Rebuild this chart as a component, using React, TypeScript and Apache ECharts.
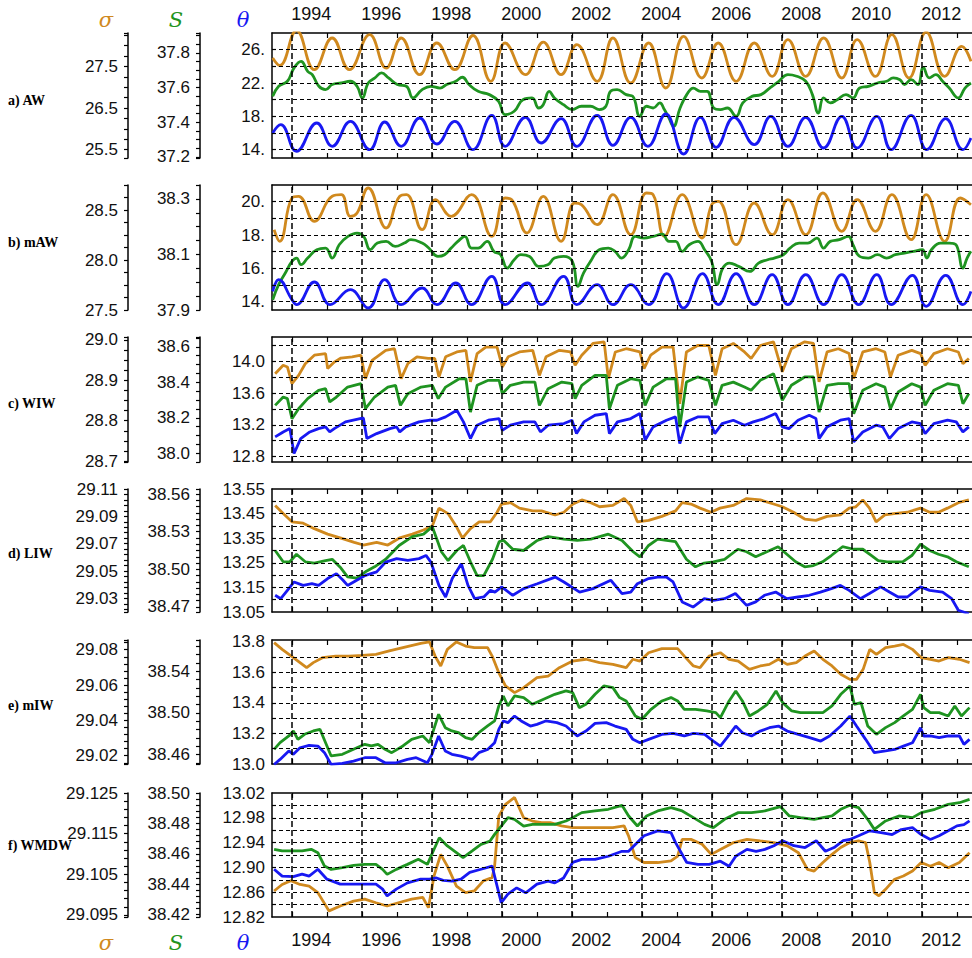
import React, { useEffect, useRef } from "react";
import * as echarts from "echarts";

// ---------- time axis ----------
const X_MIN = 1993.43;
const X_MAX = 2013.43;
const YEAR_TICKS = [1994, 1995, 1996, 1997, 1998, 1999, 2000, 2001, 2002, 2003, 2004, 2005, 2006, 2007, 2008, 2009, 2010, 2011, 2012, 2013];
const YEAR_LABELS = [1994, 1996, 1998, 2000, 2002, 2004, 2006, 2008, 2010, 2012];
const GRID_YEARS = [1994, 1996, 1998, 2000, 2002, 2004, 2006, 2008, 2010, 2012];
const LABEL_SHIFT = 0.55;

// ---------- panels ----------
const PANEL_NAMES = ["a) AW", "b) mAW", "c) WIW", "d) LIW", "e) mIW", "f) WMDW"];

const SIGMA_RANGE = [[25.3, 28.3], [27.5, 28.75], [28.698, 29.007], [29.02, 29.11], [29.0153, 29.0855], [29.0945, 29.125]];
const SAL_RANGE = [[37.194, 37.914], [37.9, 38.35], [37.951, 38.655], [38.466, 38.564], [38.451, 38.57], [38.4185, 38.5]];
const THETA_RANGE = [[13, 28], [13.5, 21], [12.73, 14.31], [13.05, 13.55], [13.0, 13.81], [12.82, 13.02]];

const SIGMA_LABELS = [[25.5, 26.5, 27.5], [27.5, 28.0, 28.5], [28.7, 28.8, 28.9, 29.0], [29.03, 29.05, 29.07, 29.09, 29.11], [29.02, 29.04, 29.06, 29.08], [29.095, 29.105, 29.115, 29.125]];
const SIGMA_DEC = [1, 1, 1, 2, 2, 3];
const SIGMA_MINOR = [0.25, 0.125, 0.025, 0.004, 0.004, 0.002];

const SAL_LABELS = [[37.2, 37.4, 37.6, 37.8], [37.9, 38.1, 38.3], [38.0, 38.2, 38.4, 38.6], [38.47, 38.5, 38.53, 38.56], [38.46, 38.5, 38.54], [38.42, 38.44, 38.46, 38.48, 38.5]];
const SAL_DEC = [1, 1, 1, 2, 2, 2];
const SAL_MINOR = [0.05, 0.05, 0.05, 0.005, 0.008, 0.004];

const THETA_LABELS = [[14, 18, 22, 26], [14, 16, 18, 20], [12.8, 13.2, 13.6, 14.0], [13.05, 13.15, 13.25, 13.35, 13.45, 13.55], [13.0, 13.2, 13.4, 13.6, 13.8], [12.82, 12.86, 12.9, 12.94, 12.98, 13.02]];
const THETA_DEC = [0, 0, 1, 2, 1, 2];
const THETA_GRID = [
  [14, 16, 18, 20, 22, 24, 26],
  [14, 15, 16, 17, 18, 19, 20],
  [12.8, 13.0, 13.2, 13.4, 13.6, 13.8, 14.0, 14.2],
  [13.1, 13.15, 13.2, 13.25, 13.3, 13.35, 13.4, 13.45, 13.5],
  [13.1, 13.2, 13.3, 13.4, 13.5, 13.6, 13.7],
  [12.84, 12.86, 12.88, 12.9, 12.92, 12.94, 12.96, 12.98, 13.0],
];

// ---------- data: [year, value] ----------
const A_SIGMA = [[1993.45, 27.70], [1993.65, 27.52], [1994.13, 28.36], [1994.64, 27.42], [1995.15, 28.18], [1995.64, 27.42], [1996.22, 28.26], [1996.69, 27.46], [1997.12, 28.18], [1997.65, 27.30], [1998.14, 28.06], [1998.65, 27.42], [1999.17, 28.24], [1999.68, 27.14], [2000.09, 28.06], [2000.67, 27.30], [2001.18, 28.08], [2001.69, 27.30], [2002.14, 28.02], [2002.72, 27.14], [2003.17, 28.18], [2003.68, 27.10], [2004.19, 28.06], [2004.68, 26.98], [2005.19, 28.22], [2005.71, 27.22], [2006.18, 28.06], [2006.69, 27.14], [2007.21, 28.06], [2007.72, 27.26], [2008.17, 28.14], [2008.68, 27.26], [2009.19, 28.18], [2009.71, 27.22], [2010.15, 28.14], [2010.67, 27.26], [2011.14, 28.26], [2011.63, 27.22], [2012.12, 28.32], [2012.65, 27.26], [2013.14, 27.98], [2013.40, 27.62]];
const A_SAL = [[1993.45, 37.549], [1993.62, 37.607], [1993.87, 37.636], [1994.06, 37.713], [1994.26, 37.751], [1994.45, 37.693], [1994.58, 37.674], [1994.77, 37.607], [1994.96, 37.588], [1995.15, 37.617], [1995.41, 37.626], [1995.67, 37.636], [1995.86, 37.607], [1996.01, 37.540], [1996.18, 37.626], [1996.37, 37.655], [1996.56, 37.684], [1996.76, 37.655], [1997.01, 37.617], [1997.27, 37.607], [1997.46, 37.540], [1997.72, 37.588], [1997.97, 37.607], [1998.23, 37.597], [1998.42, 37.617], [1998.68, 37.636], [1998.87, 37.659], [1999.06, 37.617], [1999.32, 37.578], [1999.64, 37.559], [1999.90, 37.521], [2000.09, 37.444], [2000.35, 37.463], [2000.60, 37.530], [2000.86, 37.540], [2001.05, 37.482], [2001.18, 37.501], [2001.35, 37.578], [2001.50, 37.540], [2001.76, 37.501], [2002.01, 37.473], [2002.27, 37.492], [2002.53, 37.492], [2002.78, 37.473], [2002.97, 37.492], [2003.10, 37.578], [2003.29, 37.588], [2003.55, 37.559], [2003.74, 37.549], [2003.94, 37.434], [2004.13, 37.492], [2004.32, 37.482], [2004.51, 37.511], [2004.64, 37.473], [2004.77, 37.425], [2004.90, 37.377], [2005.09, 37.482], [2005.28, 37.559], [2005.47, 37.597], [2005.67, 37.578], [2005.86, 37.578], [2006.05, 37.482], [2006.24, 37.473], [2006.44, 37.482], [2006.69, 37.434], [2006.88, 37.511], [2007.14, 37.549], [2007.40, 37.559], [2007.65, 37.597], [2007.91, 37.636], [2008.17, 37.674], [2008.42, 37.665], [2008.68, 37.636], [2008.87, 37.559], [2009.04, 37.453], [2009.19, 37.540], [2009.38, 37.511], [2009.58, 37.530], [2009.83, 37.559], [2010.03, 37.540], [2010.22, 37.597], [2010.47, 37.607], [2010.73, 37.626], [2010.99, 37.636], [2011.18, 37.655], [2011.37, 37.645], [2011.50, 37.617], [2011.69, 37.645], [2011.88, 37.617], [2012.04, 37.716], [2012.21, 37.655], [2012.40, 37.674], [2012.59, 37.636], [2012.78, 37.597], [2013.04, 37.540], [2013.23, 37.597], [2013.40, 37.626]];
const A_THETA = [[1993.45, 16.0], [1993.68, 17.0], [1994.13, 13.8], [1994.71, 17.2], [1995.15, 14.4], [1995.67, 17.4], [1996.22, 14.0], [1996.65, 17.32], [1997.12, 14.4], [1997.65, 17.8], [1998.14, 14.68], [1998.65, 17.4], [1999.17, 14.0], [1999.71, 18.12], [2000.09, 14.4], [2000.67, 17.88], [2001.12, 14.8], [2001.69, 17.72], [2002.14, 14.4], [2002.72, 18.12], [2003.17, 14.52], [2003.68, 17.88], [2004.17, 14.4], [2004.68, 18.28], [2005.19, 13.48], [2005.67, 17.88], [2006.12, 14.28], [2006.63, 17.88], [2007.21, 14.6], [2007.68, 18.0], [2008.17, 14.4], [2008.68, 17.88], [2009.19, 14.2], [2009.71, 18.0], [2010.15, 14.2], [2010.71, 18.0], [2011.12, 14.0], [2011.69, 18.12], [2012.14, 14.0], [2012.68, 17.72], [2013.17, 14.0], [2013.40, 15.4]];

const B_SIGMA = [[1993.49, 28.303], [1993.65, 28.187], [1994.0, 28.62], [1994.19, 28.637], [1994.64, 28.387], [1995.15, 28.637], [1995.41, 28.653], [1995.67, 28.437], [1995.86, 28.47], [1996.18, 28.72], [1996.69, 28.32], [1997.08, 28.637], [1997.27, 28.653], [1997.72, 28.303], [1998.10, 28.603], [1998.55, 28.437], [1999.13, 28.653], [1999.71, 28.237], [2000.09, 28.62], [2000.28, 28.603], [2000.71, 28.27], [2001.18, 28.637], [2001.69, 28.187], [2002.08, 28.57], [2002.27, 28.553], [2002.72, 28.353], [2003.17, 28.653], [2003.68, 28.253], [2004.13, 28.67], [2004.32, 28.653], [2004.64, 28.237], [2005.15, 28.653], [2005.71, 28.22], [2005.99, 28.553], [2006.18, 28.587], [2006.69, 28.153], [2007.21, 28.57], [2007.72, 28.253], [2008.17, 28.603], [2008.68, 28.253], [2009.17, 28.67], [2009.71, 28.287], [2010.15, 28.603], [2010.67, 28.287], [2011.14, 28.653], [2011.69, 28.203], [2012.12, 28.653], [2012.65, 28.187], [2013.10, 28.62], [2013.40, 28.553]];
const B_SAL = [[1993.45, 37.937], [1993.62, 37.991], [1993.81, 38.033], [1994.0, 38.075], [1994.13, 38.087], [1994.26, 38.063], [1994.45, 38.087], [1994.71, 38.117], [1994.96, 38.123], [1995.15, 38.087], [1995.35, 38.135], [1995.60, 38.165], [1995.86, 38.177], [1996.05, 38.165], [1996.24, 38.117], [1996.44, 38.141], [1996.69, 38.147], [1996.95, 38.129], [1997.21, 38.141], [1997.40, 38.153], [1997.72, 38.141], [1997.91, 38.123], [1998.17, 38.093], [1998.36, 38.099], [1998.55, 38.123], [1998.74, 38.147], [1998.94, 38.165], [1999.13, 38.123], [1999.32, 38.123], [1999.58, 38.147], [1999.77, 38.111], [1999.96, 38.099], [2000.15, 38.051], [2000.35, 38.081], [2000.54, 38.099], [2000.79, 38.093], [2001.05, 38.057], [2001.31, 38.063], [2001.50, 38.087], [2001.76, 38.093], [2002.01, 38.075], [2002.17, 37.985], [2002.33, 38.033], [2002.53, 38.075], [2002.78, 38.117], [2003.04, 38.123], [2003.23, 38.111], [2003.42, 38.087], [2003.62, 38.117], [2003.81, 38.165], [2004.06, 38.159], [2004.32, 38.165], [2004.58, 38.173], [2004.77, 38.147], [2004.96, 38.147], [2005.15, 38.111], [2005.35, 38.135], [2005.60, 38.147], [2005.79, 38.117], [2005.99, 38.075], [2006.15, 37.991], [2006.31, 38.051], [2006.50, 38.069], [2006.76, 38.057], [2007.08, 38.039], [2007.33, 38.069], [2007.59, 38.081], [2007.78, 38.087], [2008.04, 38.099], [2008.23, 38.123], [2008.49, 38.141], [2008.74, 38.141], [2009.00, 38.159], [2009.19, 38.123], [2009.38, 38.147], [2009.64, 38.153], [2009.90, 38.165], [2010.03, 38.135], [2010.22, 38.093], [2010.47, 38.087], [2010.73, 38.099], [2010.99, 38.087], [2011.24, 38.099], [2011.50, 38.105], [2011.76, 38.111], [2012.01, 38.117], [2012.14, 38.087], [2012.27, 38.117], [2012.53, 38.141], [2012.78, 38.141], [2012.97, 38.135], [2013.17, 38.051], [2013.29, 38.087], [2013.40, 38.111]];
const B_THETA = [[1993.45, 14.62], [1993.62, 15.32], [1994.0, 14.12], [1994.13, 13.82], [1994.64, 15.18], [1995.09, 13.82], [1995.67, 14.72], [1996.18, 13.62], [1996.65, 15.32], [1997.12, 13.82], [1997.72, 14.82], [1998.14, 13.82], [1998.68, 15.12], [1999.13, 13.82], [1999.71, 15.52], [2000.09, 13.82], [2000.73, 15.12], [2001.12, 13.82], [2001.76, 15.52], [2002.14, 13.82], [2002.72, 15.02], [2003.17, 13.82], [2003.68, 15.02], [2004.19, 13.82], [2004.71, 15.68], [2005.19, 13.62], [2005.73, 15.68], [2006.18, 13.82], [2006.69, 15.68], [2007.21, 13.82], [2007.72, 15.62], [2008.17, 13.82], [2008.68, 15.62], [2009.19, 13.82], [2009.71, 15.62], [2010.19, 13.82], [2010.71, 15.62], [2011.12, 13.82], [2011.73, 15.58], [2012.12, 13.72], [2012.68, 15.58], [2013.17, 13.82], [2013.40, 14.62]];

const C_SIGMA = [[1993.52, 28.916], [1993.75, 28.937], [1993.87, 28.933], [1994.0, 28.892], [1994.19, 28.912], [1994.38, 28.941], [1994.64, 28.962], [1994.96, 28.966], [1995.02, 28.929], [1995.21, 28.945], [1995.40, 28.955], [1995.72, 28.958], [1995.97, 28.962], [1996.10, 28.904], [1996.29, 28.949], [1996.68, 28.974], [1996.93, 28.978], [1997.12, 28.904], [1997.31, 28.941], [1997.57, 28.958], [1997.89, 28.954], [1998.08, 28.954], [1998.20, 28.908], [1998.39, 28.958], [1998.71, 28.970], [1998.97, 28.974], [1999.10, 28.896], [1999.29, 28.966], [1999.54, 28.982], [1999.86, 28.982], [2000.01, 28.933], [2000.18, 28.958], [2000.50, 28.970], [2000.88, 28.974], [2001.07, 28.912], [2001.26, 28.958], [2001.64, 28.974], [2001.96, 28.970], [2002.09, 28.937], [2002.28, 28.962], [2002.60, 28.991], [2002.92, 28.995], [2003.04, 28.904], [2003.24, 28.970], [2003.55, 28.978], [2003.94, 28.970], [2004.06, 28.929], [2004.25, 28.962], [2004.57, 28.982], [2004.89, 28.982], [2005.08, 28.842], [2005.27, 28.970], [2005.59, 28.986], [2005.91, 28.986], [2006.10, 28.912], [2006.29, 28.978], [2006.61, 28.991], [2006.93, 28.970], [2007.12, 28.954], [2007.38, 28.986], [2007.76, 28.995], [2008.01, 28.921], [2008.27, 28.978], [2008.65, 28.995], [2008.90, 28.991], [2009.06, 28.896], [2009.29, 28.970], [2009.61, 28.978], [2009.92, 28.966], [2010.05, 28.904], [2010.31, 28.970], [2010.69, 28.978], [2010.94, 28.970], [2011.10, 28.908], [2011.32, 28.962], [2011.71, 28.974], [2011.96, 28.966], [2012.09, 28.937], [2012.34, 28.966], [2012.73, 28.978], [2013.04, 28.970], [2013.17, 28.941], [2013.34, 28.954]];
const C_SAL = [[1993.52, 38.270], [1993.75, 38.317], [1993.87, 38.308], [1994.0, 38.195], [1994.19, 38.251], [1994.45, 38.308], [1994.76, 38.355], [1994.96, 38.364], [1995.08, 38.289], [1995.27, 38.317], [1995.59, 38.373], [1995.97, 38.392], [1996.10, 38.251], [1996.36, 38.317], [1996.74, 38.373], [1996.96, 38.383], [1997.10, 38.270], [1997.31, 38.336], [1997.69, 38.373], [1998.01, 38.383], [1998.18, 38.308], [1998.39, 38.373], [1998.78, 38.420], [1998.97, 38.420], [1999.10, 38.232], [1999.29, 38.383], [1999.61, 38.411], [1999.92, 38.411], [2000.01, 38.336], [2000.24, 38.383], [2000.62, 38.401], [2000.94, 38.401], [2001.07, 38.270], [2001.32, 38.364], [2001.71, 38.401], [2002.0, 38.392], [2002.09, 38.308], [2002.28, 38.383], [2002.66, 38.439], [2002.98, 38.439], [2003.07, 38.251], [2003.30, 38.383], [2003.68, 38.420], [2003.94, 38.411], [2004.09, 38.270], [2004.32, 38.373], [2004.70, 38.420], [2004.96, 38.420], [2005.08, 38.148], [2005.27, 38.401], [2005.59, 38.430], [2005.91, 38.411], [2006.10, 38.270], [2006.29, 38.383], [2006.61, 38.401], [2006.93, 38.373], [2007.12, 38.355], [2007.38, 38.411], [2007.76, 38.448], [2008.01, 38.298], [2008.27, 38.383], [2008.65, 38.430], [2008.90, 38.430], [2009.06, 38.232], [2009.29, 38.383], [2009.61, 38.392], [2009.92, 38.392], [2010.05, 38.223], [2010.31, 38.355], [2010.69, 38.392], [2010.94, 38.373], [2011.10, 38.251], [2011.32, 38.345], [2011.71, 38.392], [2011.96, 38.373], [2012.09, 38.270], [2012.34, 38.355], [2012.73, 38.392], [2013.04, 38.383], [2013.17, 38.279], [2013.34, 38.336]];
const C_THETA = [[1993.52, 13.047], [1993.75, 13.110], [1993.94, 13.152], [1994.06, 12.837], [1994.25, 13.026], [1994.51, 13.110], [1994.76, 13.152], [1994.96, 13.174], [1995.08, 13.110], [1995.21, 13.152], [1995.53, 13.237], [1995.85, 13.270], [1996.04, 13.287], [1996.14, 13.026], [1996.42, 13.089], [1996.80, 13.152], [1996.99, 13.174], [1997.08, 13.110], [1997.25, 13.174], [1997.63, 13.237], [1997.95, 13.258], [1998.14, 13.258], [1998.39, 13.300], [1998.71, 13.384], [1998.90, 13.237], [1999.10, 13.026], [1999.29, 13.195], [1999.61, 13.258], [1999.92, 13.279], [2000.01, 13.131], [2000.24, 13.195], [2000.62, 13.237], [2000.94, 13.237], [2001.10, 13.110], [2001.32, 13.195], [2001.77, 13.216], [2002.0, 13.258], [2002.13, 13.089], [2002.34, 13.237], [2002.66, 13.321], [2002.98, 13.342], [2003.07, 13.089], [2003.30, 13.237], [2003.68, 13.279], [2003.94, 13.342], [2004.09, 13.005], [2004.32, 13.174], [2004.70, 13.258], [2004.96, 13.300], [2005.08, 12.963], [2005.27, 13.237], [2005.59, 13.300], [2005.91, 13.300], [2006.08, 13.089], [2006.29, 13.216], [2006.61, 13.258], [2006.93, 13.195], [2007.18, 13.237], [2007.50, 13.279], [2007.82, 13.342], [2008.01, 13.174], [2008.20, 13.152], [2008.46, 13.258], [2008.78, 13.321], [2008.97, 13.279], [2009.06, 13.026], [2009.29, 13.174], [2009.67, 13.258], [2009.92, 13.279], [2010.05, 12.984], [2010.31, 13.110], [2010.69, 13.195], [2010.88, 13.174], [2011.07, 13.026], [2011.32, 13.152], [2011.71, 13.237], [2011.96, 13.216], [2012.09, 13.089], [2012.34, 13.216], [2012.73, 13.258], [2012.98, 13.237], [2013.17, 13.110], [2013.34, 13.174]];

const D_SIGMA = [[1993.52, 29.098], [1993.75, 29.092], [1994.0, 29.086], [1994.32, 29.085], [1994.64, 29.081], [1995.02, 29.077], [1995.40, 29.074], [1995.78, 29.071], [1996.04, 29.069], [1996.42, 29.071], [1996.74, 29.069], [1997.06, 29.074], [1997.44, 29.077], [1997.76, 29.080], [1998.01, 29.083], [1998.20, 29.096], [1998.46, 29.092], [1998.71, 29.082], [1998.87, 29.074], [1999.10, 29.081], [1999.35, 29.086], [1999.67, 29.086], [1999.86, 29.093], [1999.99, 29.099], [2000.24, 29.100], [2000.50, 29.096], [2000.88, 29.094], [2001.13, 29.094], [2001.52, 29.091], [2001.77, 29.093], [2002.03, 29.099], [2002.28, 29.102], [2002.54, 29.100], [2002.79, 29.097], [2003.17, 29.098], [2003.49, 29.103], [2003.68, 29.098], [2003.87, 29.086], [2004.19, 29.087], [2004.57, 29.090], [2004.96, 29.094], [2005.15, 29.100], [2005.40, 29.099], [2005.66, 29.096], [2005.97, 29.093], [2006.23, 29.096], [2006.61, 29.098], [2006.99, 29.103], [2007.38, 29.102], [2007.76, 29.099], [2008.01, 29.097], [2008.33, 29.093], [2008.65, 29.088], [2008.97, 29.087], [2009.29, 29.090], [2009.67, 29.091], [2009.92, 29.096], [2010.11, 29.097], [2010.31, 29.102], [2010.50, 29.096], [2010.69, 29.086], [2010.94, 29.091], [2011.20, 29.092], [2011.58, 29.093], [2011.96, 29.096], [2012.22, 29.093], [2012.47, 29.093], [2012.73, 29.096], [2013.04, 29.100], [2013.34, 29.102]];
const D_SAL = [[1993.52, 38.515], [1993.75, 38.506], [1993.94, 38.506], [1994.13, 38.512], [1994.38, 38.506], [1994.64, 38.505], [1994.96, 38.507], [1995.15, 38.508], [1995.40, 38.501], [1995.59, 38.494], [1995.85, 38.493], [1996.10, 38.498], [1996.36, 38.502], [1996.68, 38.508], [1997.06, 38.519], [1997.44, 38.526], [1997.76, 38.528], [1998.01, 38.534], [1998.27, 38.514], [1998.46, 38.507], [1998.71, 38.515], [1998.90, 38.519], [1999.10, 38.506], [1999.29, 38.495], [1999.48, 38.495], [1999.73, 38.508], [1999.92, 38.522], [2000.05, 38.523], [2000.31, 38.516], [2000.62, 38.515], [2001.01, 38.523], [2001.32, 38.526], [2001.77, 38.524], [2002.15, 38.523], [2002.54, 38.524], [2003.04, 38.528], [2003.43, 38.523], [2003.75, 38.514], [2003.94, 38.510], [2004.19, 38.519], [2004.45, 38.524], [2004.70, 38.523], [2004.96, 38.522], [2005.27, 38.508], [2005.53, 38.502], [2005.78, 38.505], [2006.04, 38.506], [2006.36, 38.508], [2006.74, 38.516], [2006.99, 38.514], [2007.25, 38.510], [2007.57, 38.514], [2007.89, 38.518], [2008.14, 38.512], [2008.39, 38.506], [2008.65, 38.502], [2008.90, 38.503], [2009.16, 38.506], [2009.41, 38.511], [2009.73, 38.518], [2010.05, 38.516], [2010.31, 38.516], [2010.56, 38.511], [2010.75, 38.507], [2011.01, 38.506], [2011.45, 38.506], [2011.71, 38.511], [2011.96, 38.520], [2012.22, 38.515], [2012.47, 38.512], [2012.73, 38.510], [2012.98, 38.506], [2013.34, 38.502]];
const D_THETA = [[1993.52, 13.118], [1993.68, 13.104], [1993.87, 13.138], [1994.06, 13.172], [1994.32, 13.158], [1994.57, 13.165], [1994.76, 13.158], [1995.02, 13.186], [1995.27, 13.206], [1995.46, 13.179], [1995.59, 13.158], [1995.85, 13.179], [1996.10, 13.199], [1996.42, 13.213], [1996.68, 13.253], [1996.99, 13.267], [1997.31, 13.260], [1997.63, 13.267], [1997.83, 13.280], [1997.97, 13.253], [1998.20, 13.158], [1998.39, 13.111], [1998.58, 13.186], [1998.84, 13.246], [1999.03, 13.158], [1999.22, 13.104], [1999.48, 13.111], [1999.67, 13.138], [1999.80, 13.131], [1999.99, 13.152], [2000.31, 13.118], [2000.62, 13.145], [2001.01, 13.165], [2001.52, 13.192], [2001.77, 13.172], [2002.22, 13.131], [2002.60, 13.145], [2003.11, 13.179], [2003.43, 13.125], [2003.68, 13.131], [2003.87, 13.165], [2004.19, 13.186], [2004.45, 13.192], [2004.70, 13.192], [2004.89, 13.172], [2005.15, 13.091], [2005.46, 13.070], [2005.78, 13.104], [2006.04, 13.097], [2006.36, 13.104], [2006.67, 13.125], [2006.99, 13.077], [2007.25, 13.091], [2007.50, 13.118], [2007.82, 13.131], [2008.14, 13.104], [2008.46, 13.111], [2008.78, 13.118], [2009.10, 13.131], [2009.41, 13.145], [2009.67, 13.158], [2009.92, 13.138], [2010.24, 13.104], [2010.50, 13.125], [2010.82, 13.152], [2011.07, 13.131], [2011.32, 13.111], [2011.58, 13.111], [2011.96, 13.152], [2012.22, 13.138], [2012.59, 13.131], [2012.85, 13.104], [2013.04, 13.057], [2013.34, 13.043]];

const E_SIGMA = [[1993.49, 29.0840], [1993.72, 29.0802], [1994.04, 29.0755], [1994.42, 29.0698], [1994.61, 29.0727], [1994.87, 29.0755], [1995.25, 29.0764], [1995.63, 29.0764], [1996.02, 29.0768], [1996.40, 29.0774], [1996.78, 29.0793], [1997.17, 29.0812], [1997.68, 29.0836], [1997.93, 29.0844], [1998.09, 29.0764], [1998.25, 29.0708], [1998.44, 29.0802], [1998.70, 29.0844], [1998.96, 29.0821], [1999.21, 29.0812], [1999.59, 29.0812], [1999.72, 29.0764], [1999.91, 29.0670], [2000.10, 29.0595], [2000.36, 29.0557], [2000.62, 29.0585], [2001.00, 29.0642], [2001.32, 29.0651], [2001.64, 29.0698], [2002.02, 29.0736], [2002.40, 29.0746], [2002.79, 29.0727], [2003.17, 29.0717], [2003.55, 29.0698], [2003.74, 29.0746], [2003.94, 29.0736], [2004.19, 29.0783], [2004.57, 29.0806], [2005.02, 29.0806], [2005.21, 29.0764], [2005.47, 29.0708], [2005.66, 29.0698], [2005.92, 29.0764], [2006.24, 29.0783], [2006.49, 29.0746], [2006.75, 29.0736], [2007.07, 29.0689], [2007.38, 29.0708], [2007.64, 29.0717], [2007.90, 29.0746], [2008.15, 29.0717], [2008.41, 29.0727], [2008.66, 29.0764], [2008.92, 29.0793], [2009.17, 29.0746], [2009.43, 29.0708], [2009.68, 29.0661], [2009.94, 29.0632], [2010.13, 29.0632], [2010.32, 29.0689], [2010.51, 29.0802], [2010.70, 29.0774], [2010.96, 29.0812], [2011.22, 29.0821], [2011.47, 29.0830], [2011.73, 29.0802], [2011.98, 29.0755], [2012.24, 29.0746], [2012.49, 29.0736], [2012.75, 29.0755], [2013.07, 29.0746], [2013.36, 29.0727]];
const E_SAL = [[1993.49, 38.4651], [1993.66, 38.4715], [1993.91, 38.4779], [1994.04, 38.4827], [1994.17, 38.4747], [1994.36, 38.4795], [1994.61, 38.4827], [1994.80, 38.4843], [1995.00, 38.4683], [1995.12, 38.4587], [1995.44, 38.4603], [1995.76, 38.4651], [1996.08, 38.4699], [1996.27, 38.4683], [1996.46, 38.4699], [1996.66, 38.4651], [1996.85, 38.4619], [1997.17, 38.4683], [1997.42, 38.4747], [1997.74, 38.4779], [1997.93, 38.4715], [1998.19, 38.4987], [1998.38, 38.4859], [1998.57, 38.4827], [1998.76, 38.4811], [1998.96, 38.4763], [1999.15, 38.4747], [1999.34, 38.4811], [1999.59, 38.4875], [1999.79, 38.4923], [1999.91, 38.5067], [2000.04, 38.5163], [2000.17, 38.5067], [2000.36, 38.5163], [2000.62, 38.5147], [2000.87, 38.5083], [2001.19, 38.5131], [2001.51, 38.5179], [2001.83, 38.5211], [2002.02, 38.5195], [2002.21, 38.5051], [2002.40, 38.5083], [2002.66, 38.5179], [2002.91, 38.5259], [2003.17, 38.5243], [2003.36, 38.5147], [2003.55, 38.5115], [2003.81, 38.4971], [2004.00, 38.4939], [2004.26, 38.5035], [2004.57, 38.5115], [2004.83, 38.5147], [2005.02, 38.5115], [2005.21, 38.5035], [2005.53, 38.5035], [2005.85, 38.5019], [2006.11, 38.5003], [2006.24, 38.4955], [2006.49, 38.5115], [2006.68, 38.5211], [2006.87, 38.5115], [2007.07, 38.4971], [2007.32, 38.5019], [2007.58, 38.5083], [2007.83, 38.5211], [2008.02, 38.5099], [2008.28, 38.5019], [2008.53, 38.5003], [2008.79, 38.5003], [2009.17, 38.5003], [2009.43, 38.5067], [2009.68, 38.5179], [2009.94, 38.5259], [2010.07, 38.5083], [2010.26, 38.5099], [2010.45, 38.4875], [2010.70, 38.4795], [2010.96, 38.4859], [2011.22, 38.4907], [2011.47, 38.4971], [2011.73, 38.5035], [2011.96, 38.5179], [2012.05, 38.5051], [2012.24, 38.5003], [2012.49, 38.5003], [2012.75, 38.4971], [2012.94, 38.5067], [2013.13, 38.4971], [2013.36, 38.5051]];
const E_THETA = [[1993.49, 12.997], [1993.66, 13.030], [1993.91, 13.085], [1994.04, 13.063], [1994.23, 13.106], [1994.49, 13.122], [1994.74, 13.117], [1994.93, 13.074], [1995.12, 12.997], [1995.44, 13.004], [1995.76, 13.019], [1996.08, 13.041], [1996.40, 13.041], [1996.66, 13.008], [1996.98, 13.008], [1997.30, 13.030], [1997.55, 13.041], [1997.87, 13.008], [1998.00, 13.063], [1998.19, 13.183], [1998.38, 13.085], [1998.57, 13.063], [1998.83, 13.052], [1999.15, 13.030], [1999.34, 13.074], [1999.59, 13.095], [1999.79, 13.139], [1999.91, 13.226], [2000.04, 13.281], [2000.17, 13.270], [2000.36, 13.313], [2000.55, 13.281], [2000.81, 13.248], [2001.00, 13.259], [2001.25, 13.281], [2001.57, 13.270], [2001.83, 13.248], [2002.15, 13.183], [2002.40, 13.215], [2002.66, 13.265], [2002.98, 13.270], [2003.23, 13.248], [2003.55, 13.226], [2003.74, 13.161], [2003.94, 13.139], [2004.19, 13.161], [2004.57, 13.193], [2004.89, 13.200], [2005.21, 13.183], [2005.47, 13.200], [2005.79, 13.193], [2006.04, 13.150], [2006.24, 13.117], [2006.43, 13.172], [2006.68, 13.248], [2006.87, 13.204], [2007.13, 13.183], [2007.38, 13.215], [2007.64, 13.237], [2007.90, 13.248], [2008.15, 13.215], [2008.47, 13.193], [2008.79, 13.172], [2009.11, 13.150], [2009.36, 13.183], [2009.68, 13.248], [2009.94, 13.313], [2010.13, 13.248], [2010.39, 13.161], [2010.64, 13.074], [2010.96, 13.085], [2011.22, 13.095], [2011.47, 13.117], [2011.73, 13.139], [2011.96, 13.237], [2012.05, 13.183], [2012.24, 13.183], [2012.49, 13.172], [2012.75, 13.183], [2013.07, 13.183], [2013.20, 13.128], [2013.36, 13.161]];

const F_SIGMA = [[1993.49, 29.1009], [1993.72, 29.1025], [1993.97, 29.1034], [1994.23, 29.1025], [1994.49, 29.1021], [1994.74, 29.1005], [1995.06, 29.0960], [1995.38, 29.0972], [1995.76, 29.0984], [1996.08, 29.0989], [1996.40, 29.0980], [1996.72, 29.0972], [1997.04, 29.0980], [1997.42, 29.0989], [1997.74, 29.0993], [1997.90, 29.0968], [1998.06, 29.1046], [1998.25, 29.1099], [1998.44, 29.1070], [1998.70, 29.1021], [1998.96, 29.1005], [1999.21, 29.1009], [1999.47, 29.1034], [1999.72, 29.1042], [1999.79, 29.1070], [1999.91, 29.1193], [2000.10, 29.1222], [2000.36, 29.1239], [2000.62, 29.1189], [2000.87, 29.1181], [2001.13, 29.1177], [2001.38, 29.1177], [2001.70, 29.1169], [2002.02, 29.1165], [2002.40, 29.1165], [2002.79, 29.1165], [2003.17, 29.1165], [2003.49, 29.1169], [2003.62, 29.1144], [2003.81, 29.1091], [2004.06, 29.1079], [2004.45, 29.1079], [2004.83, 29.1083], [2005.02, 29.1095], [2005.15, 29.1136], [2005.40, 29.1136], [2005.72, 29.1124], [2005.98, 29.1099], [2006.24, 29.1111], [2006.62, 29.1128], [2007.00, 29.1136], [2007.38, 29.1132], [2007.77, 29.1128], [2008.15, 29.1120], [2008.47, 29.1103], [2008.73, 29.1062], [2008.92, 29.1058], [2009.17, 29.1079], [2009.43, 29.1099], [2009.68, 29.1116], [2009.94, 29.1128], [2010.19, 29.1132], [2010.39, 29.1128], [2010.51, 29.1079], [2010.64, 29.1005], [2010.77, 29.0997], [2010.96, 29.1013], [2011.22, 29.1038], [2011.47, 29.1046], [2011.73, 29.1058], [2011.98, 29.1079], [2012.24, 29.1070], [2012.49, 29.1079], [2012.75, 29.1066], [2013.07, 29.1079], [2013.36, 29.1103]];
const F_SAL = [[1993.49, 38.4630], [1993.72, 38.4619], [1993.97, 38.4619], [1994.29, 38.4619], [1994.55, 38.4630], [1994.74, 38.4608], [1994.93, 38.4520], [1995.12, 38.4498], [1995.44, 38.4509], [1995.76, 38.4524], [1996.08, 38.4531], [1996.40, 38.4531], [1996.59, 38.4498], [1996.72, 38.4465], [1996.98, 38.4498], [1997.30, 38.4531], [1997.61, 38.4564], [1997.87, 38.4531], [1998.06, 38.4630], [1998.21, 38.4706], [1998.44, 38.4652], [1998.70, 38.4608], [1998.89, 38.4575], [1999.15, 38.4619], [1999.40, 38.4662], [1999.66, 38.4684], [1999.79, 38.4728], [1999.98, 38.4783], [2000.17, 38.4838], [2000.36, 38.4827], [2000.62, 38.4783], [2000.87, 38.4794], [2001.13, 38.4794], [2001.51, 38.4794], [2001.83, 38.4816], [2002.02, 38.4838], [2002.28, 38.4871], [2002.66, 38.4882], [2003.04, 38.4893], [2003.43, 38.4919], [2003.62, 38.4849], [2003.87, 38.4783], [2004.13, 38.4849], [2004.45, 38.4882], [2004.83, 38.4904], [2005.15, 38.4882], [2005.47, 38.4838], [2005.79, 38.4794], [2006.04, 38.4772], [2006.36, 38.4827], [2006.75, 38.4871], [2007.13, 38.4871], [2007.51, 38.4882], [2007.96, 38.4910], [2008.21, 38.4849], [2008.53, 38.4838], [2008.92, 38.4827], [2009.17, 38.4838], [2009.43, 38.4849], [2009.68, 38.4893], [2009.94, 38.4919], [2010.19, 38.4904], [2010.45, 38.4827], [2010.64, 38.4761], [2010.96, 38.4816], [2011.34, 38.4849], [2011.73, 38.4838], [2011.98, 38.4871], [2012.37, 38.4893], [2012.75, 38.4925], [2013.07, 38.4936], [2013.36, 38.4958]];
const F_THETA = [[1993.49, 12.897], [1993.72, 12.886], [1994.04, 12.885], [1994.29, 12.889], [1994.49, 12.886], [1994.74, 12.897], [1995.00, 12.881], [1995.38, 12.873], [1995.76, 12.873], [1996.08, 12.873], [1996.40, 12.873], [1996.59, 12.865], [1996.72, 12.854], [1996.98, 12.865], [1997.30, 12.875], [1997.68, 12.881], [1997.93, 12.881], [1998.13, 12.883], [1998.32, 12.879], [1998.57, 12.878], [1998.83, 12.881], [1999.08, 12.892], [1999.40, 12.897], [1999.72, 12.902], [1999.79, 12.886], [1999.98, 12.843], [2000.17, 12.857], [2000.42, 12.867], [2000.68, 12.859], [2001.00, 12.873], [2001.32, 12.878], [2001.51, 12.875], [2001.76, 12.883], [2002.02, 12.908], [2002.28, 12.913], [2002.66, 12.913], [2003.04, 12.918], [2003.43, 12.926], [2003.62, 12.926], [2003.81, 12.937], [2004.06, 12.951], [2004.45, 12.959], [2004.83, 12.956], [2004.96, 12.940], [2005.28, 12.908], [2005.60, 12.905], [2005.92, 12.905], [2006.24, 12.910], [2006.49, 12.902], [2006.68, 12.918], [2007.00, 12.929], [2007.26, 12.926], [2007.51, 12.929], [2007.77, 12.935], [2008.02, 12.943], [2008.34, 12.935], [2008.66, 12.932], [2008.98, 12.943], [2009.24, 12.926], [2009.49, 12.932], [2009.75, 12.943], [2009.94, 12.945], [2010.19, 12.951], [2010.51, 12.959], [2010.83, 12.956], [2011.15, 12.953], [2011.41, 12.961], [2011.73, 12.964], [2011.98, 12.953], [2012.24, 12.945], [2012.49, 12.951], [2012.75, 12.959], [2013.00, 12.967], [2013.20, 12.969], [2013.36, 12.975]];

const SIGMA_DATA = [A_SIGMA, B_SIGMA, C_SIGMA, D_SIGMA, E_SIGMA, F_SIGMA];
const SAL_DATA = [A_SAL, B_SAL, C_SAL, D_SAL, E_SAL, F_SAL];
const THETA_DATA = [A_THETA, B_THETA, C_THETA, D_THETA, E_THETA, F_THETA];
const SMOOTH = [0.45, 0.45, 0, 0, 0, 0];

// ---------- layout / style ----------
const GRID_LEFT = 272;
const GRID_TOPS = [33, 185, 337, 489, 640, 793];
const GRID_HEIGHTS = [125, 125, 125, 123, 124, 124];
const PANEL_LABEL_Y = [100, 242, 403, 553, 705, 845];
const COL_SIGMA = "#D0891E";
const COL_SAL = "#1F9421";
const COL_THETA = "#1818F2";
const FONT = "Liberation Sans";

function tickList(anchor: number, step: number, min: number, max: number) {
  const out: number[] = [min];
  const k0 = Math.ceil((min - anchor) / step - 1e-6);
  for (let k = k0; anchor + k * step <= max + 1e-9; k++) {
    const v = +(anchor + k * step).toFixed(6);
    if (v > min + 1e-9 && v < max - 1e-9) out.push(v);
  }
  out.push(max);
  return out;
}

function buildOption() {
  const grid: any[] = [];
  const xAxis: any[] = [];
  const yAxis: any[] = [];
  const series: any[] = [];
  const labelStyle = { fontFamily: FONT, fontSize: 17, color: "#111" };
  const blackLine = { color: "#000", width: 1.5 };

  for (let i = 0; i < 6; i++) {
    grid.push({ left: GRID_LEFT, right: 0, top: GRID_TOPS[i], height: GRID_HEIGHTS[i], containLabel: false, outerBoundsMode: "none" });
    ["bottom", "top"].forEach((pos) => {
      const showLab = (pos === "bottom" && i === 5) || (pos === "top" && i === 0);
      xAxis.push({
        gridIndex: i, type: "value", position: pos, min: X_MIN, max: X_MAX,
        axisLine: { show: true, onZero: false, lineStyle: blackLine },
        axisTick: { show: true, inside: true, length: 5, customValues: YEAR_TICKS, lineStyle: { color: "#000", width: 1.2 } },
        axisLabel: {
          show: showLab, ...labelStyle, fontSize: 18, margin: pos === "bottom" ? 14 : 10,
          customValues: YEAR_LABELS.map((y) => y + LABEL_SHIFT),
          formatter: (v: number) => String(Math.round(v - LABEL_SHIFT)),
        },
        splitLine: { show: false },
      });
    });

    const sR = SIGMA_RANGE[i], saR = SAL_RANGE[i], tR = THETA_RANGE[i];
    yAxis.push({
      gridIndex: i, type: "value", position: "left", offset: 144, min: sR[0], max: sR[1],
      axisLine: { show: true, onZero: false, lineStyle: blackLine },
      axisTick: { show: true, inside: false, length: 4, customValues: tickList(SIGMA_LABELS[i][0], SIGMA_MINOR[i], sR[0], sR[1]), lineStyle: { color: "#000", width: 1.2 } },
      axisLabel: { ...labelStyle, margin: 10, customValues: SIGMA_LABELS[i], formatter: (v: number) => v.toFixed(SIGMA_DEC[i]) },
      splitLine: { show: false },
    });
    yAxis.push({
      gridIndex: i, type: "value", position: "left", offset: 72, min: saR[0], max: saR[1],
      axisLine: { show: true, onZero: false, lineStyle: blackLine },
      axisTick: { show: true, inside: false, length: 4, customValues: tickList(SAL_LABELS[i][0], SAL_MINOR[i], saR[0], saR[1]), lineStyle: { color: "#000", width: 1.2 } },
      axisLabel: { ...labelStyle, margin: 10, customValues: SAL_LABELS[i], formatter: (v: number) => v.toFixed(SAL_DEC[i]) },
      splitLine: { show: false },
    });
    yAxis.push({
      gridIndex: i, type: "value", position: "left", offset: 0, min: tR[0], max: tR[1],
      axisLine: { show: true, onZero: false, lineStyle: blackLine },
      axisTick: { show: true, inside: true, length: 4, customValues: THETA_GRID[i], lineStyle: { color: "#000", width: 1.2 } },
      axisLabel: {
        ...labelStyle, margin: 7, customValues: THETA_LABELS[i],
        formatter: (v: number) => (THETA_DEC[i] === 0 ? v.toFixed(0) + "." : v.toFixed(THETA_DEC[i])),
      },
      splitLine: { show: false },
    });

    const xi = 2 * i;
    // dashed grid lines (drawn under the curves)
    series.push({
      type: "line", xAxisIndex: xi, yAxisIndex: 3 * i + 2, data: [], z: 1, silent: true,
      markLine: {
        silent: true, symbol: ["none", "none"], label: { show: false }, animation: false,
        data: [
          ...THETA_GRID[i].map((v) => ({ yAxis: v, lineStyle: { color: "#000", width: 1, type: [4, 3] } })),
          ...GRID_YEARS.map((y) => ({ xAxis: y, lineStyle: { color: "#000", width: 1.5, type: [6, 3] } })),
        ],
      },
    });
    const mk = (data: number[][], yIdx: number, color: string) => ({
      type: "line", xAxisIndex: xi, yAxisIndex: yIdx, data, showSymbol: false, symbol: "none",
      smooth: SMOOTH[i], z: 3, lineStyle: { color, width: 2.8 }, itemStyle: { color }, clip: true,
    });
    series.push(mk(SIGMA_DATA[i], 3 * i, COL_SIGMA));
    series.push(mk(SAL_DATA[i], 3 * i + 1, COL_SAL));
    series.push(mk(THETA_DATA[i], 3 * i + 2, COL_THETA));
  }

  const graphic: any[] = [];
  PANEL_NAMES.forEach((name, i) => {
    graphic.push({
      type: "text", x: 8, y: PANEL_LABEL_Y[i],
      style: { text: name, fill: "#000", font: 'bold 14px "Liberation Serif"', align: "left", verticalAlign: "middle" },
    });
  });
  const heads = [["\u03C3", 106, COL_SIGMA], ["S", 176, COL_SAL], ["\u03B8", 243, COL_THETA]];
  [20, 943].forEach((yy) => {
    heads.forEach(([t, x, c]) => {
      graphic.push({
        type: "text", x: x as number, y: yy,
        style: { text: t as string, fill: c as string, font: 'italic 21px "DejaVu Serif"', align: "center", verticalAlign: "middle" },
      });
    });
  });

  return { animation: false, backgroundColor: "#fff", grid, xAxis, yAxis, series, graphic };
}

export default function App() {
  const ref = useRef<HTMLDivElement>(null);
  useEffect(() => {
    if (!ref.current) return;
    const chart = echarts.init(ref.current, undefined, { renderer: "svg" });
    chart.setOption(buildOption() as any);
    return () => chart.dispose();
  }, []);
  return <div ref={ref} style={{ position: "fixed", left: 0, top: 0, width: 972, height: 958, background: "#fff" }} />;
}
